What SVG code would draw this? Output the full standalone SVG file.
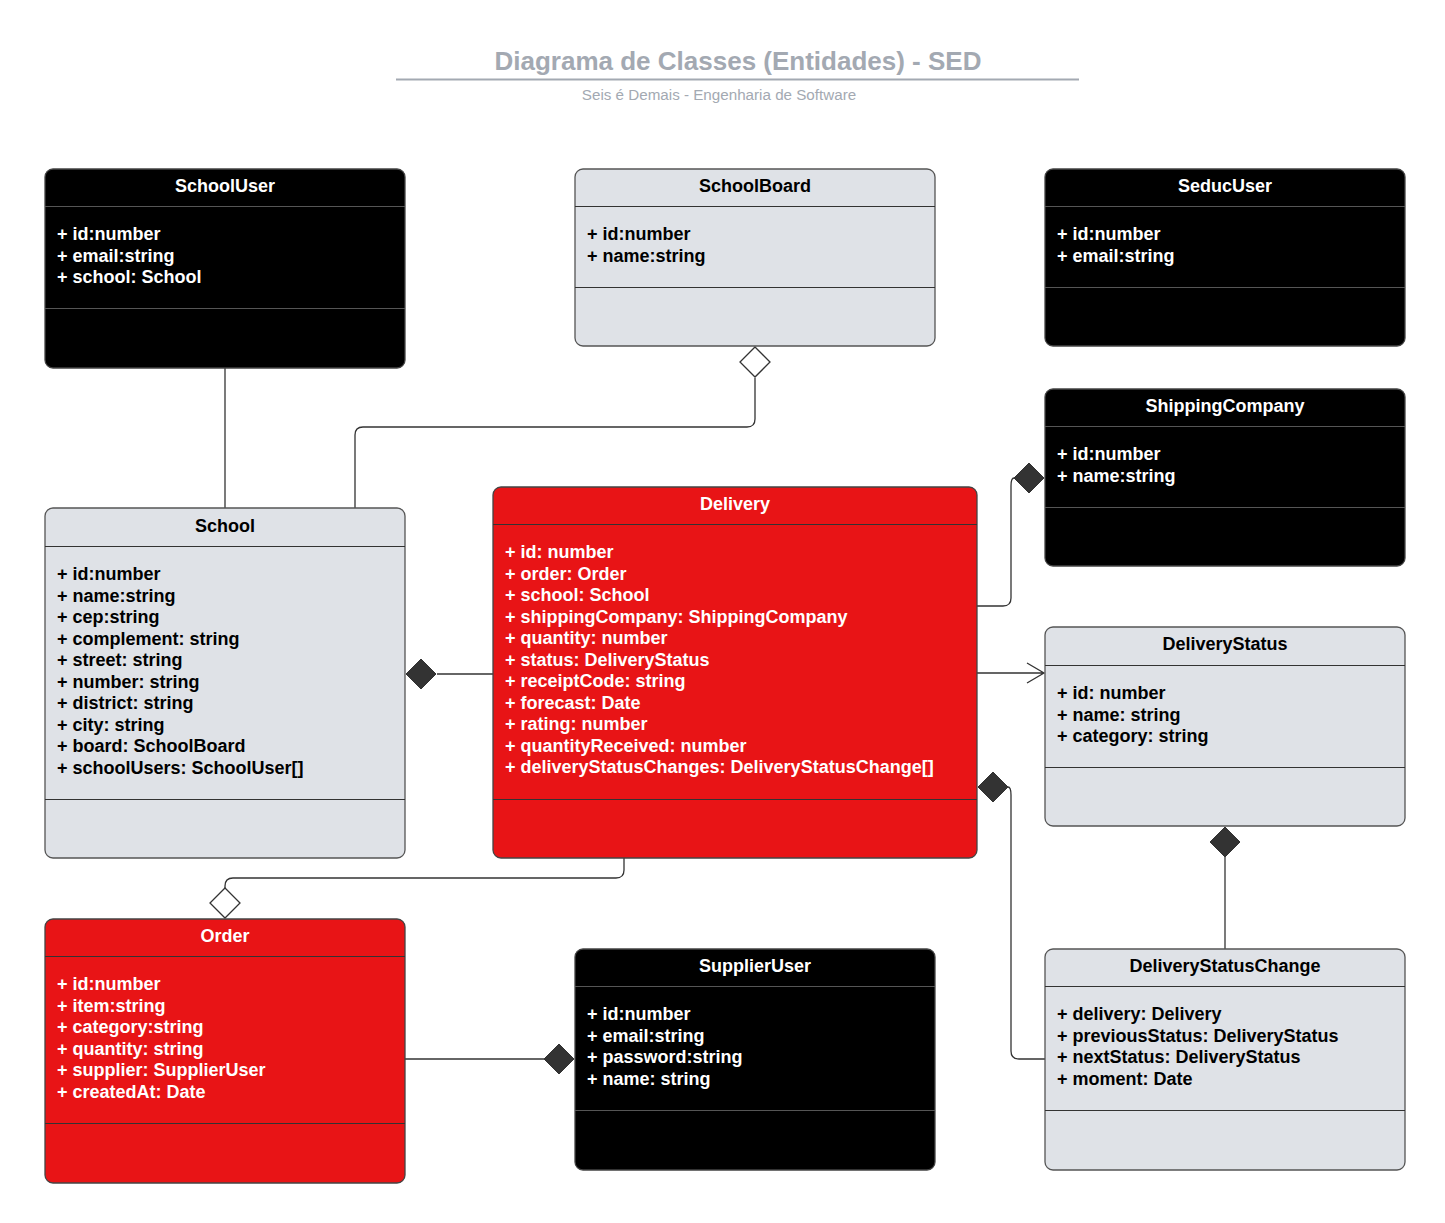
<svg xmlns="http://www.w3.org/2000/svg" width="1445" height="1223" viewBox="0 0 1445 1223">
<style>
text{font-family:"Liberation Sans",Arial,sans-serif}
.title{font-size:26px;font-weight:bold;fill:#a3a9b2}
.sub{font-size:15.2px;fill:#a3a9b2}
.hd{font-size:18px;font-weight:bold;text-anchor:middle}
.at{font-size:18px;font-weight:bold}
.blk rect{fill:#000;stroke:#444;stroke-width:1.3}
.blk text{fill:#fff}
.blk line{stroke:#555;stroke-width:1}
.gry rect{fill:#dfe2e7;stroke:#555;stroke-width:1.3}
.gry text{fill:#000}
.gry line{stroke:#333;stroke-width:1}
.red rect{fill:#e81416;stroke:#444;stroke-width:1.3}
.red text{fill:#fff}
.red line{stroke:#333;stroke-width:1}
.c{fill:none;stroke:#333;stroke-width:1.3}
.fd{fill:#333;stroke:#333;stroke-width:1}
.hdm{fill:#fff;stroke:#333;stroke-width:1.3}
</style>
<text class="title" x="738" y="70" text-anchor="middle">Diagrama de Classes (Entidades) - SED</text>
<line x1="396" y1="79.5" x2="1079" y2="79.5" stroke="#a3a9b2" stroke-width="2"/>
<text class="sub" x="719" y="100" text-anchor="middle">Seis é Demais - Engenharia de Software</text>

<g id="connectors">
<path class="c" d="M225 368V508"/>
<path class="c" d="M755 378V419Q755 427 747 427H363Q355 427 355 435V508"/>
<polygon class="hdm" points="755,347 770,362 755,377 740,362"/>
<path class="c" d="M437 674H493"/>
<polygon class="fd" points="406,674 421,659 436,674 421,689"/>
<path class="c" d="M977 606H1003Q1011 606 1011 598V486Q1011 478 1014 478"/>
<polygon class="fd" points="1014,478 1029,463 1044,478 1029,493"/>
<path class="c" d="M977 673H1044M1027 663L1044 673L1027 683"/>
<polygon class="fd" points="978,787 993,772 1008,787 993,802"/>
<path class="c" d="M1008 787Q1011 787 1011 795V1051Q1011 1059 1019 1059H1045"/>
<polygon class="fd" points="1225,827 1240,842 1225,857 1210,842"/>
<path class="c" d="M1225 857V949"/>
<path class="c" d="M624 858V870Q624 878 616 878H233Q225 878 225 886V888"/>
<polygon class="hdm" points="225,888 240,903 225,918 210,903"/>
<path class="c" d="M405 1059H544"/>
<polygon class="fd" points="544,1059 559,1044 574,1059 559,1074"/>
</g>

<g id="SchoolUser" class="blk">
<rect x="45" y="169" width="360" height="199" rx="8"/>
<line x1="45" y1="206.5" x2="405" y2="206.5"/>
<line x1="45" y1="308.5" x2="405" y2="308.5"/>
<text class="hd" x="225" y="192">SchoolUser</text>
<text class="at" x="57" y="240">+ id:number</text>
<text class="at" x="57" y="261.5">+ email:string</text>
<text class="at" x="57" y="283">+ school: School</text>
</g>

<g id="SchoolBoard" class="gry">
<rect x="575" y="169" width="360" height="177" rx="8"/>
<line x1="575" y1="206.5" x2="935" y2="206.5"/>
<line x1="575" y1="287.5" x2="935" y2="287.5"/>
<text class="hd" x="755" y="192">SchoolBoard</text>
<text class="at" x="587" y="240">+ id:number</text>
<text class="at" x="587" y="261.5">+ name:string</text>
</g>

<g id="SeducUser" class="blk">
<rect x="1045" y="169" width="360" height="177" rx="8"/>
<line x1="1045" y1="206.5" x2="1405" y2="206.5"/>
<line x1="1045" y1="287.5" x2="1405" y2="287.5"/>
<text class="hd" x="1225" y="192">SeducUser</text>
<text class="at" x="1057" y="240">+ id:number</text>
<text class="at" x="1057" y="261.5">+ email:string</text>
</g>

<g id="ShippingCompany" class="blk">
<rect x="1045" y="389" width="360" height="177" rx="8"/>
<line x1="1045" y1="426.5" x2="1405" y2="426.5"/>
<line x1="1045" y1="507.5" x2="1405" y2="507.5"/>
<text class="hd" x="1225" y="412">ShippingCompany</text>
<text class="at" x="1057" y="460">+ id:number</text>
<text class="at" x="1057" y="481.5">+ name:string</text>
</g>

<g id="School" class="gry">
<rect x="45" y="508" width="360" height="350" rx="8"/>
<line x1="45" y1="546.5" x2="405" y2="546.5"/>
<line x1="45" y1="799.5" x2="405" y2="799.5"/>
<text class="hd" x="225" y="532">School</text>
<text class="at" x="57" y="580">+ id:number</text>
<text class="at" x="57" y="601.5">+ name:string</text>
<text class="at" x="57" y="623">+ cep:string</text>
<text class="at" x="57" y="644.5">+ complement: string</text>
<text class="at" x="57" y="666">+ street: string</text>
<text class="at" x="57" y="687.5">+ number: string</text>
<text class="at" x="57" y="709">+ district: string</text>
<text class="at" x="57" y="730.5">+ city: string</text>
<text class="at" x="57" y="752">+ board: SchoolBoard</text>
<text class="at" x="57" y="773.5">+ schoolUsers: SchoolUser[]</text>
</g>

<g id="Delivery" class="red">
<rect x="493" y="487" width="484" height="371" rx="8"/>
<line x1="493" y1="524.5" x2="977" y2="524.5"/>
<line x1="493" y1="799.5" x2="977" y2="799.5"/>
<text class="hd" x="735" y="510">Delivery</text>
<text class="at" x="505" y="558">+ id: number</text>
<text class="at" x="505" y="579.5">+ order: Order</text>
<text class="at" x="505" y="601">+ school: School</text>
<text class="at" x="505" y="622.5">+ shippingCompany: ShippingCompany</text>
<text class="at" x="505" y="644">+ quantity: number</text>
<text class="at" x="505" y="665.5">+ status: DeliveryStatus</text>
<text class="at" x="505" y="687">+ receiptCode: string</text>
<text class="at" x="505" y="708.5">+ forecast: Date</text>
<text class="at" x="505" y="730">+ rating: number</text>
<text class="at" x="505" y="751.5">+ quantityReceived: number</text>
<text class="at" x="505" y="773">+ deliveryStatusChanges: DeliveryStatusChange[]</text>
</g>

<g id="DeliveryStatus" class="gry">
<rect x="1045" y="627" width="360" height="199" rx="8"/>
<line x1="1045" y1="665.5" x2="1405" y2="665.5"/>
<line x1="1045" y1="767.5" x2="1405" y2="767.5"/>
<text class="hd" x="1225" y="650">DeliveryStatus</text>
<text class="at" x="1057" y="699">+ id: number</text>
<text class="at" x="1057" y="720.5">+ name: string</text>
<text class="at" x="1057" y="742">+ category: string</text>
</g>

<g id="Order" class="red">
<rect x="45" y="919" width="360" height="264" rx="8"/>
<line x1="45" y1="956.5" x2="405" y2="956.5"/>
<line x1="45" y1="1123.5" x2="405" y2="1123.5"/>
<text class="hd" x="225" y="942">Order</text>
<text class="at" x="57" y="990">+ id:number</text>
<text class="at" x="57" y="1011.5">+ item:string</text>
<text class="at" x="57" y="1033">+ category:string</text>
<text class="at" x="57" y="1054.5">+ quantity: string</text>
<text class="at" x="57" y="1076">+ supplier: SupplierUser</text>
<text class="at" x="57" y="1097.5">+ createdAt: Date</text>
</g>

<g id="SupplierUser" class="blk">
<rect x="575" y="949" width="360" height="221" rx="8"/>
<line x1="575" y1="986.5" x2="935" y2="986.5"/>
<line x1="575" y1="1110.5" x2="935" y2="1110.5"/>
<text class="hd" x="755" y="972">SupplierUser</text>
<text class="at" x="587" y="1020">+ id:number</text>
<text class="at" x="587" y="1041.5">+ email:string</text>
<text class="at" x="587" y="1063">+ password:string</text>
<text class="at" x="587" y="1084.5">+ name: string</text>
</g>

<g id="DeliveryStatusChange" class="gry">
<rect x="1045" y="949" width="360" height="221" rx="8"/>
<line x1="1045" y1="986.5" x2="1405" y2="986.5"/>
<line x1="1045" y1="1110.5" x2="1405" y2="1110.5"/>
<text class="hd" x="1225" y="972">DeliveryStatusChange</text>
<text class="at" x="1057" y="1020">+ delivery: Delivery</text>
<text class="at" x="1057" y="1041.5">+ previousStatus: DeliveryStatus</text>
<text class="at" x="1057" y="1063">+ nextStatus: DeliveryStatus</text>
<text class="at" x="1057" y="1084.5">+ moment: Date</text>
</g>
</svg>
